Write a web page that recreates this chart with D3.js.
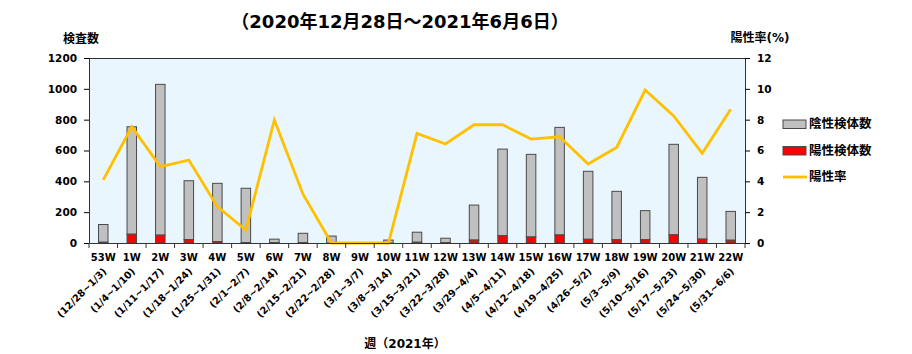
<!DOCTYPE html>
<html><head><meta charset="utf-8">
<script src="https://cdn.jsdelivr.net/npm/d3@7/dist/d3.min.js"></script>
<style>
body{margin:0;background:#fff;}
text{font-family:"DejaVu Sans","Noto Sans CJK JP",sans-serif;font-weight:bold;fill:#000;}
</style></head>
<body><svg id="c" width="912" height="354"></svg>
<script>
const weeks = ["53W","1W","2W","3W","4W","5W","6W","7W","8W","9W","10W","11W","12W","13W","14W","15W","16W","17W","18W","19W","20W","21W","22W"];
const dates = ["(12/28~1/3)","(1/4~1/10)","(1/11~1/17)","(1/18~1/24)","(1/25~1/31)","(2/1~2/7)","(2/8~2/14)","(2/15~2/21)","(2/22~2/28)","(3/1~3/7)","(3/8~3/14)","(3/15~3/21)","(3/22~3/28)","(3/29~4/4)","(4/5~4/11)","(4/12~4/18)","(4/19~4/25)","(4/26~5/2)","(5/3~5/9)","(5/10~5/16)","(5/17~5/23)","(5/24~5/30)","(5/31~6/6)"];
const positive = [5,57,51,22,9,3,2,2,0,0,0,5,2,19,47,39,52,24,21,21,53,25,18];
const negative = [115,697,978,382,378,352,23,61,45,0,19,65,29,227,562,536,698,441,314,189,587,401,187];
const rate = [4.09,7.54,4.95,5.38,2.36,0.84,7.98,3.18,0,0,0,7.11,6.42,7.67,7.67,6.74,6.89,5.12,6.2,9.92,8.24,5.82,8.67];
const leftTicks = [0,200,400,600,800,1000,1200];
const rightTicks = [0,2,4,6,8,10,12];

const svg = d3.select("#c");
const L=89, R=745, T=58, B=243;
const x = d3.scaleBand().domain(weeks).range([L,R]).paddingInner(0).paddingOuter(0);
const yL = d3.scaleLinear().domain([0,1200]).range([B,T]);
const yR = d3.scaleLinear().domain([0,12]).range([B,T]);

// plot background
svg.append("rect").attr("x",L).attr("y",T).attr("width",R-L).attr("height",B-T).attr("fill","#eaf6fd");
svg.append("line").attr("x1",L).attr("x2",R).attr("y1",T+0.5).attr("y2",T+0.5).attr("stroke","#333").attr("stroke-width",1);

// bars
const bw = 9.5;
const g = svg.append("g");
weeks.forEach((w,i)=>{
  const cx = x(w)+x.bandwidth()/2;
  const tot = positive[i]+negative[i];
  if(tot<=0) return;
  g.append("rect").attr("x",cx-bw/2).attr("y",yL(tot)).attr("width",bw).attr("height",yL(positive[i])-yL(tot))
    .attr("fill","#c0c0c0").attr("stroke","#4a4a4a").attr("stroke-width",1);
  if(positive[i]>0)
  g.append("rect").attr("x",cx-bw/2).attr("y",yL(positive[i])).attr("width",bw).attr("height",B-yL(positive[i]))
    .attr("fill","#ff0000").attr("stroke","#4a4a4a").attr("stroke-width",1);
});

// line
const line = d3.line().x((d,i)=>x(weeks[i])+x.bandwidth()/2).y(d=>yR(d));
svg.append("path").datum(rate).attr("d",line).attr("fill","none").attr("stroke","#ffc000").attr("stroke-width",2.8).attr("stroke-linejoin","miter");

// left axis
const la = svg.append("g").attr("transform",`translate(${L},0)`).call(d3.axisLeft(yL).tickValues(leftTicks).tickFormat(d3.format("d")).tickSize(5).tickPadding(7));
la.select(".domain").attr("stroke","#333");
la.selectAll("text").style("font-size","10.5px");
// right axis
const ra = svg.append("g").attr("transform",`translate(${R},0)`).call(d3.axisRight(yR).tickValues(rightTicks).tickFormat(d3.format("d")).tickSize(5).tickPadding(7));
ra.select(".domain").attr("stroke","#333");
ra.selectAll("text").style("font-size","10.5px");
// bottom axis
const xb = svg.append("g").attr("transform",`translate(0,${B})`).call(d3.axisBottom(x).tickSize(0).tickFormat(""));
xb.select(".domain").attr("stroke","#333");
const bounds = d3.range(weeks.length+1).map(i=>L+i*x.step());
svg.append("g").selectAll("line").data(bounds).join("line")
  .attr("x1",d=>d).attr("x2",d=>d).attr("y1",B).attr("y2",B+5).attr("stroke","#333");

// week labels
svg.append("g").selectAll("text").data(weeks).join("text")
  .attr("x",d=>x(d)+x.bandwidth()/2).attr("y",261).attr("text-anchor","middle")
  .style("font-size","10px").text(d=>d);
// date labels
svg.append("g").selectAll("text").data(dates).join("text")
  .attr("transform",(d,i)=>`translate(${x(weeks[i])+x.bandwidth()/2+4},${272}) rotate(-45)`)
  .attr("text-anchor","end").style("font-size","9.8px").text(d=>d);

// titles
svg.append("text").attr("x",400).attr("y",28).attr("text-anchor","middle").style("font-size","18px").text("（2020年12月28日～2021年6月6日）");
svg.append("text").attr("x",81).attr("y",43).attr("text-anchor","middle").style("font-size","12px").text("検査数");
svg.append("text").attr("x",760).attr("y",42).attr("text-anchor","middle").style("font-size","12px").text("陽性率(%)");
svg.append("text").attr("x",405).attr("y",348).attr("text-anchor","middle").style("font-size","12px").text("週（2021年）");

// legend
const lg = svg.append("g");
lg.append("rect").attr("x",783).attr("y",120).attr("width",23).attr("height",8.5).attr("fill","#c0c0c0").attr("stroke","#4a4a4a");
lg.append("text").attr("x",809).attr("y",128).style("font-size","12.5px").text("陰性検体数");
lg.append("rect").attr("x",783).attr("y",146.5).attr("width",23).attr("height",8.5).attr("fill","#ff0000").attr("stroke","#4a4a4a");
lg.append("text").attr("x",809).attr("y",155).style("font-size","12.5px").text("陽性検体数");
lg.append("line").attr("x1",783).attr("x2",807).attr("y1",177).attr("y2",177).attr("stroke","#ffc000").attr("stroke-width",2.8);
lg.append("text").attr("x",809).attr("y",181).style("font-size","12.5px").text("陽性率");
</script></body></html>
